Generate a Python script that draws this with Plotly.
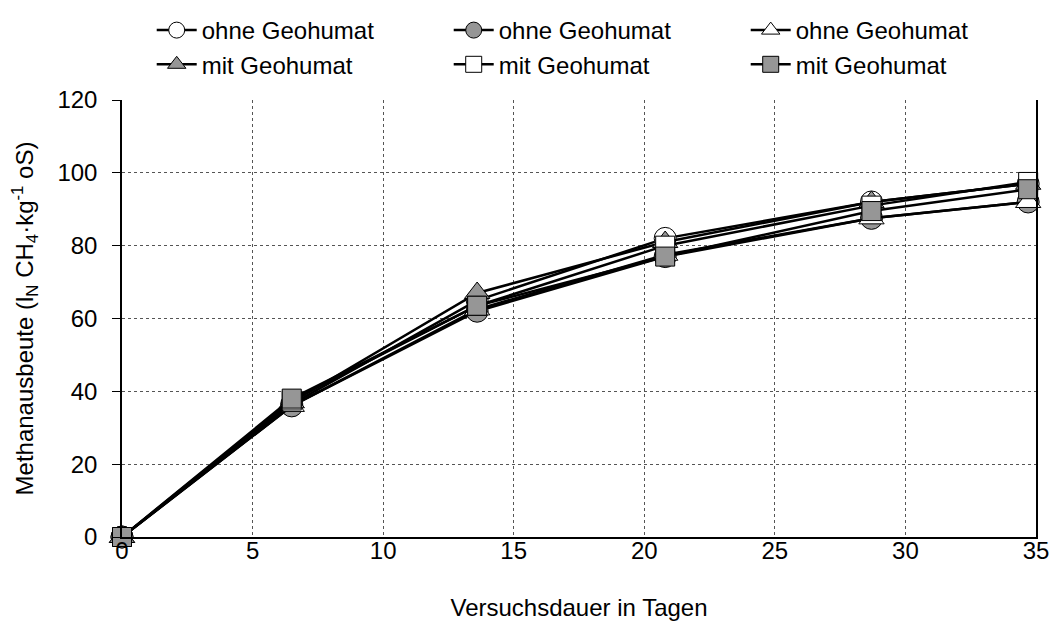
import plotly.graph_objects as go

days = [0, 6.5, 13.6, 20.8, 28.7, 34.7]

names = ["ohne Geohumat", "ohne Geohumat", "ohne Geohumat",
         "mit Geohumat", "mit Geohumat", "mit Geohumat"]
s1 = [0, 36.5, 65.0, 82.0, 92.0, 97.0]   # open circle
s2 = [0, 36.0, 62.0, 77.0, 87.5, 92.0]   # filled circle
s3 = [0, 36.0, 62.5, 77.5, 87.5, 92.0]   # open triangle
s4 = [0, 37.0, 67.0, 81.0, 92.0, 97.0]   # filled triangle
s5 = [0, 37.5, 63.5, 80.0, 91.0, 97.5]   # open square
s6 = [0, 38.0, 63.5, 77.0, 89.5, 95.5]   # filled square

series = [s1, s2, s3, s4, s5, s6]
symbols = ["circle", "circle", "triangle-up", "triangle-up", "square", "square"]
fills = ["white", "#969696", "white", "#969696", "white", "#969696"]
sizes = [22, 22, 22, 22, 19, 19]

FONT = "Liberation Sans, Arial"
FS = 24

fig = go.Figure()
for vals, nm, sym, fc, sz in zip(series, names, symbols, fills, sizes):
    fig.add_trace(go.Scatter(
        x=days, y=vals, name=nm, mode="lines+markers",
        line=dict(color="black", width=2.5),
        marker=dict(symbol=sym, size=sz, color=fc,
                    line=dict(color="black", width=1)),
        cliponaxis=False,
    ))

fig.update_layout(
    width=1049, height=625,
    margin=dict(l=114, r=21, t=92, b=96, autoexpand=False),
    paper_bgcolor="white", plot_bgcolor="white",
    font=dict(family=FONT, size=FS, color="black"),
    legend=dict(orientation="h", xref="container", yref="container",
                x=0.137, xanchor="left", y=1.0, yanchor="top",
                entrywidth=242, entrywidthmode="pixels",
                font=dict(family=FONT, size=FS), tracegroupgap=0,
                itemwidth=40, bgcolor="rgba(0,0,0,0)"),
    xaxis=dict(range=[0, 35], tickvals=[0, 5, 10, 15, 20, 25, 30, 35],
               showgrid=True, gridcolor="#555555", griddash="dot", gridwidth=1,
               showline=True, linecolor="black", linewidth=1.5,
               ticks="", zeroline=False, automargin=False,
               ticklabeloverflow="allow", ticklabelstandoff=-9,
               title=dict(text="Versuchsdauer in Tagen", standoff=37,
                          font=dict(family=FONT, size=FS)),
               tickfont=dict(family=FONT, size=FS)),
    yaxis=dict(range=[0, 120], tickvals=[0, 20, 40, 60, 80, 100, 120],
               showgrid=True, gridcolor="#555555", griddash="dot", gridwidth=1,
               showline=True, linecolor="black", linewidth=1.5, mirror=True,
               ticks="outside", ticklen=8, tickcolor="black",
               zeroline=False, automargin=False,
               ticklabeloverflow="allow", ticklabelstandoff=10,
               title=dict(text="Methanausbeute (l<sub>N</sub> CH<sub>4</sub>·kg<sup>-1</sup> oS)",
                          standoff=20, font=dict(family=FONT, size=FS)),
               tickfont=dict(family=FONT, size=FS)),
)

fig.write_html("out.html")
